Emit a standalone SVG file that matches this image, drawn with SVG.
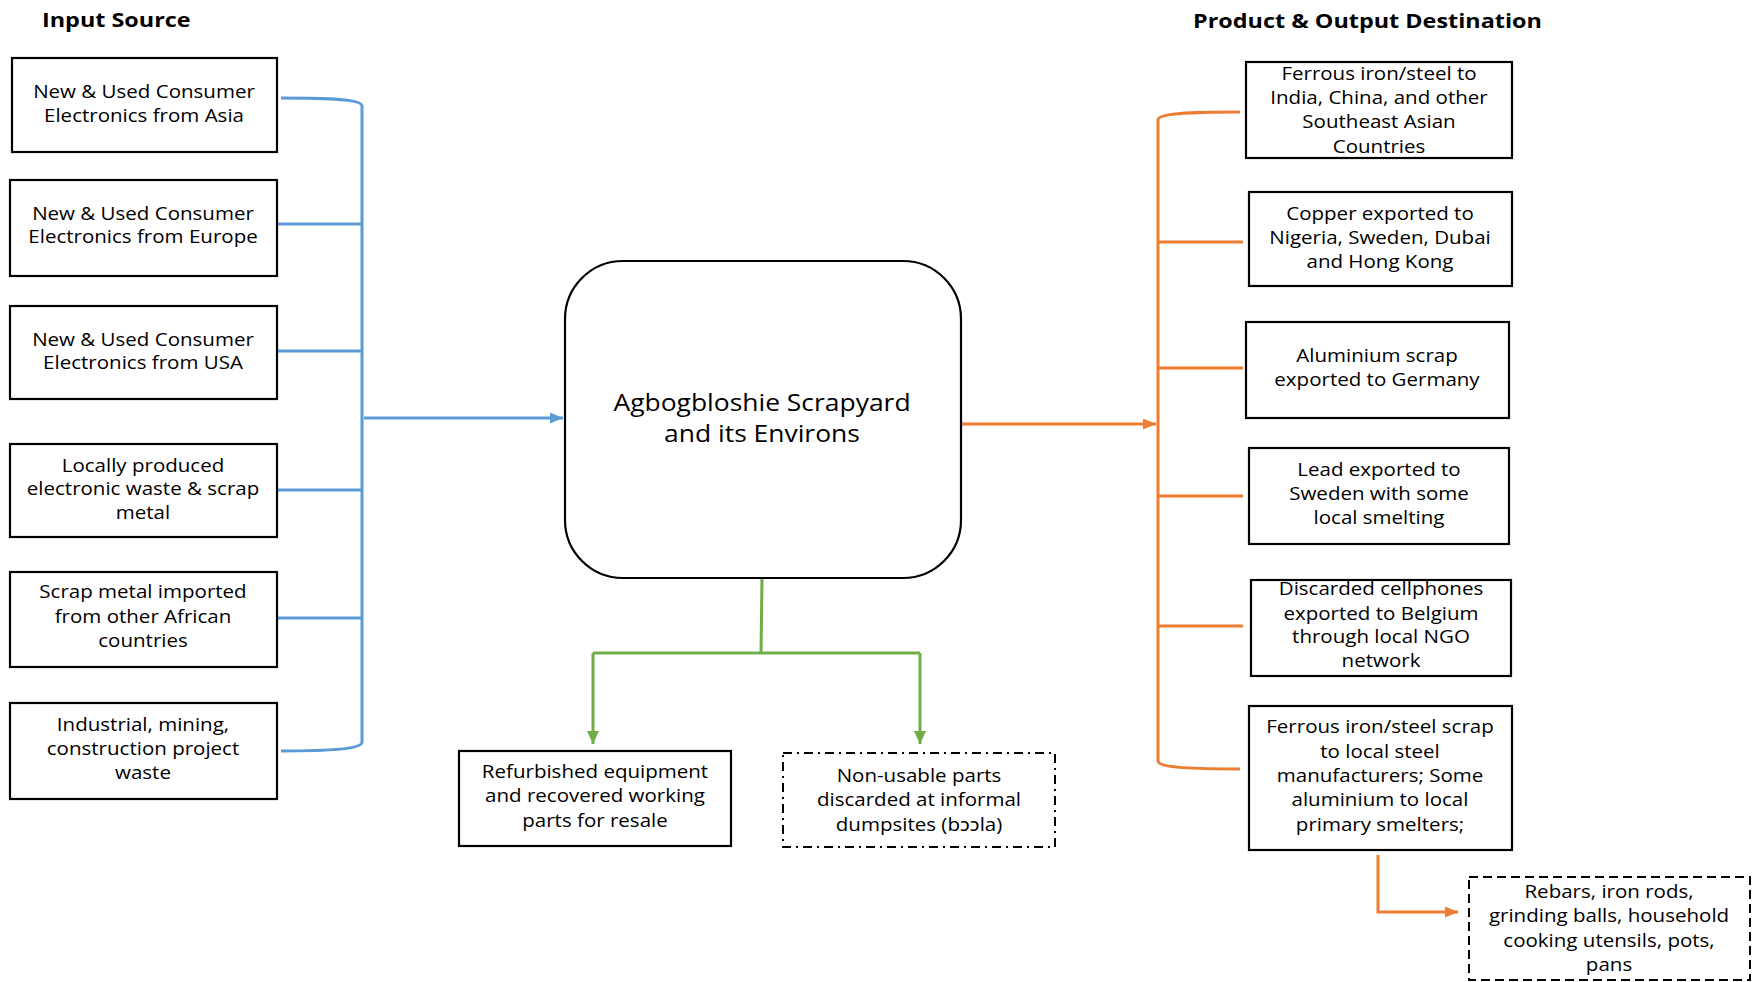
<svg xmlns="http://www.w3.org/2000/svg" width="1756" height="982" viewBox="0 0 1756 982">
  <style>
    .box { fill: #fff; stroke: #000; stroke-width: 2.2; }
    .dashdot { fill: #fff; stroke: #000; stroke-width: 2; stroke-dasharray: 9 5 2 5; }
    .dashed { fill: #fff; stroke: #000; stroke-width: 2; stroke-dasharray: 9 5; }
    .t { font-family: "Open Sans", "Noto Sans", sans-serif; font-size: 18px; fill: #000; text-anchor: middle; }
    .tc { font-family: "Open Sans", "Noto Sans", sans-serif; font-size: 23px; fill: #000; text-anchor: middle; }
    .title { font-family: "Open Sans", "Noto Sans", sans-serif; font-size: 20px; font-weight: bold; fill: #000; }
    .blue { fill: none; stroke: #5B9BD5; stroke-width: 3; }
    .orange { fill: none; stroke: #ED7D31; stroke-width: 3; }
    .green { fill: none; stroke: #70AD47; stroke-width: 3; }
  </style>
  <defs>
    <marker id="arrBlue" markerUnits="userSpaceOnUse" markerWidth="13" markerHeight="11" refX="13" refY="5.5" orient="auto">
      <path d="M0,0 L13,5.5 L0,11 z" fill="#5B9BD5"/>
    </marker>
    <marker id="arrOrange" markerUnits="userSpaceOnUse" markerWidth="13" markerHeight="11" refX="13" refY="5.5" orient="auto">
      <path d="M0,0 L13,5.5 L0,11 z" fill="#ED7D31"/>
    </marker>
    <marker id="arrGreen" markerUnits="userSpaceOnUse" markerWidth="13" markerHeight="12" refX="13" refY="6" orient="auto">
      <path d="M0,0 L13,6 L0,12 z" fill="#70AD47"/>
    </marker>
  </defs>

  <!-- column headings (text is set slightly wide, hence the x-scale) -->
  <g transform="translate(42 0) scale(1.17 1)">
    <text class="title" x="0" y="27">Input Source</text>
  </g>
  <g transform="translate(1193 0) scale(1.17 1)">
    <text class="title" x="0" y="28">Product &amp; Output Destination</text>
  </g>

  <!-- connectors -->
  <g id="connectors">
    <!-- inputs bracket -->
    <path class="blue" d="M281,98 C330,98 362,99 362,106 L362,742 C362,749 330,751 281,751"/>
    <path class="blue" d="M278,224 H362"/>
    <path class="blue" d="M278,351 H362"/>
    <path class="blue" d="M278,490 H362"/>
    <path class="blue" d="M278,618 H362"/>
    <path class="blue" d="M364,418 H563" marker-end="url(#arrBlue)"/>
    <!-- outputs bracket -->
    <path class="orange" d="M961,424 H1156" marker-end="url(#arrOrange)"/>
    <path class="orange" d="M1240,112 C1190,112 1158,113 1158,120 L1158,761 C1158,768 1195,769 1240,769"/>
    <path class="orange" d="M1158,242 H1243"/>
    <path class="orange" d="M1158,368 H1243"/>
    <path class="orange" d="M1158,496 H1243"/>
    <path class="orange" d="M1158,626 H1243"/>
    <path class="orange" d="M1378,855 V912 H1458" marker-end="url(#arrOrange)"/>
    <!-- local outcomes -->
    <path class="green" d="M762,578 L761,653"/>
    <path class="green" d="M593,653 H920"/>
    <path class="green" d="M593,653 V744" marker-end="url(#arrGreen)"/>
    <path class="green" d="M920,653 V744" marker-end="url(#arrGreen)"/>
  </g>

  <!-- input sources -->
  <g id="in-asia">
    <rect class="box" x="12" y="58" width="265" height="94"/>
    <g transform="translate(144 0) scale(1.14 1)">
      <text class="t" x="0" y="98">New &amp; Used Consumer</text>
      <text class="t" x="0" y="122">Electronics from Asia</text>
    </g>
  </g>
  <g id="in-europe">
    <rect class="box" x="10" y="180" width="267" height="96"/>
    <g transform="translate(143 0) scale(1.14 1)">
      <text class="t" x="0" y="220">New &amp; Used Consumer</text>
      <text class="t" x="0" y="243">Electronics from Europe</text>
    </g>
  </g>
  <g id="in-usa">
    <rect class="box" x="10" y="306" width="267" height="93"/>
    <g transform="translate(143 0) scale(1.14 1)">
      <text class="t" x="0" y="346">New &amp; Used Consumer</text>
      <text class="t" x="0" y="369">Electronics from USA</text>
    </g>
  </g>
  <g id="in-local">
    <rect class="box" x="10" y="444" width="267" height="93"/>
    <g transform="translate(143 0) scale(1.14 1)">
      <text class="t" x="0" y="472">Locally produced</text>
      <text class="t" x="0" y="495">electronic waste &amp; scrap</text>
      <text class="t" x="0" y="519">metal</text>
    </g>
  </g>
  <g id="in-africa">
    <rect class="box" x="10" y="572" width="267" height="95"/>
    <g transform="translate(143 0) scale(1.14 1)">
      <text class="t" x="0" y="598">Scrap metal imported</text>
      <text class="t" x="0" y="623">from other African</text>
      <text class="t" x="0" y="647">countries</text>
    </g>
  </g>
  <g id="in-industrial">
    <rect class="box" x="10" y="703" width="267" height="96"/>
    <g transform="translate(143 0) scale(1.14 1)">
      <text class="t" x="0" y="731">Industrial, mining,</text>
      <text class="t" x="0" y="755">construction project</text>
      <text class="t" x="0" y="779">waste</text>
    </g>
  </g>

  <!-- central site -->
  <g id="scrapyard">
    <rect class="box" x="565" y="261" width="396" height="317" rx="58" ry="58"/>
    <g transform="translate(762 0) scale(1.15 1)">
      <text class="tc" x="0" y="411">Agbogbloshie Scrapyard</text>
      <text class="tc" x="0" y="442">and its Environs</text>
    </g>
  </g>

  <!-- local outcomes -->
  <g id="refurbished">
    <rect class="box" x="459" y="751" width="272" height="95"/>
    <g transform="translate(595 0) scale(1.14 1)">
      <text class="t" x="0" y="778">Refurbished equipment</text>
      <text class="t" x="0" y="802">and recovered working</text>
      <text class="t" x="0" y="827">parts for resale</text>
    </g>
  </g>
  <g id="discarded">
    <rect class="dashdot" x="783" y="753" width="272" height="94"/>
    <g transform="translate(919 0) scale(1.14 1)">
      <text class="t" x="0" y="782">Non-usable parts</text>
      <text class="t" x="0" y="806">discarded at informal</text>
      <text class="t" x="0" y="831">dumpsites (bɔɔla)</text>
    </g>
  </g>

  <!-- output destinations -->
  <g id="out-ferrous-asia">
    <rect class="box" x="1246" y="62" width="266" height="96"/>
    <g transform="translate(1379 0) scale(1.14 1)">
      <text class="t" x="0" y="80">Ferrous iron/steel to</text>
      <text class="t" x="0" y="104">India, China, and other</text>
      <text class="t" x="0" y="128">Southeast Asian</text>
      <text class="t" x="0" y="153">Countries</text>
    </g>
  </g>
  <g id="out-copper">
    <rect class="box" x="1249" y="192" width="263" height="94"/>
    <g transform="translate(1380 0) scale(1.14 1)">
      <text class="t" x="0" y="220">Copper exported to</text>
      <text class="t" x="0" y="244">Nigeria, Sweden, Dubai</text>
      <text class="t" x="0" y="268">and Hong Kong</text>
    </g>
  </g>
  <g id="out-aluminium">
    <rect class="box" x="1246" y="322" width="263" height="96"/>
    <g transform="translate(1377 0) scale(1.14 1)">
      <text class="t" x="0" y="362">Aluminium scrap</text>
      <text class="t" x="0" y="386">exported to Germany</text>
    </g>
  </g>
  <g id="out-lead">
    <rect class="box" x="1249" y="448" width="260" height="96"/>
    <g transform="translate(1379 0) scale(1.14 1)">
      <text class="t" x="0" y="476">Lead exported to</text>
      <text class="t" x="0" y="500">Sweden with some</text>
      <text class="t" x="0" y="524">local smelting</text>
    </g>
  </g>
  <g id="out-cellphones">
    <rect class="box" x="1251" y="580" width="260" height="96"/>
    <g transform="translate(1381 0) scale(1.14 1)">
      <text class="t" x="0" y="595">Discarded cellphones</text>
      <text class="t" x="0" y="620">exported to Belgium</text>
      <text class="t" x="0" y="643">through local NGO</text>
      <text class="t" x="0" y="667">network</text>
    </g>
  </g>
  <g id="out-ferrous-local">
    <rect class="box" x="1249" y="706" width="263" height="144"/>
    <g transform="translate(1380 0) scale(1.14 1)">
      <text class="t" x="0" y="733">Ferrous iron/steel scrap</text>
      <text class="t" x="0" y="758">to local steel</text>
      <text class="t" x="0" y="782">manufacturers; Some</text>
      <text class="t" x="0" y="806">aluminium to local</text>
      <text class="t" x="0" y="831">primary smelters;</text>
    </g>
  </g>
  <g id="products">
    <rect class="dashed" x="1469" y="877" width="281" height="103"/>
    <g transform="translate(1609 0) scale(1.14 1)">
      <text class="t" x="0" y="898">Rebars, iron rods,</text>
      <text class="t" x="0" y="922">grinding balls, household</text>
      <text class="t" x="0" y="947">cooking utensils, pots,</text>
      <text class="t" x="0" y="971">pans</text>
    </g>
  </g>
</svg>
